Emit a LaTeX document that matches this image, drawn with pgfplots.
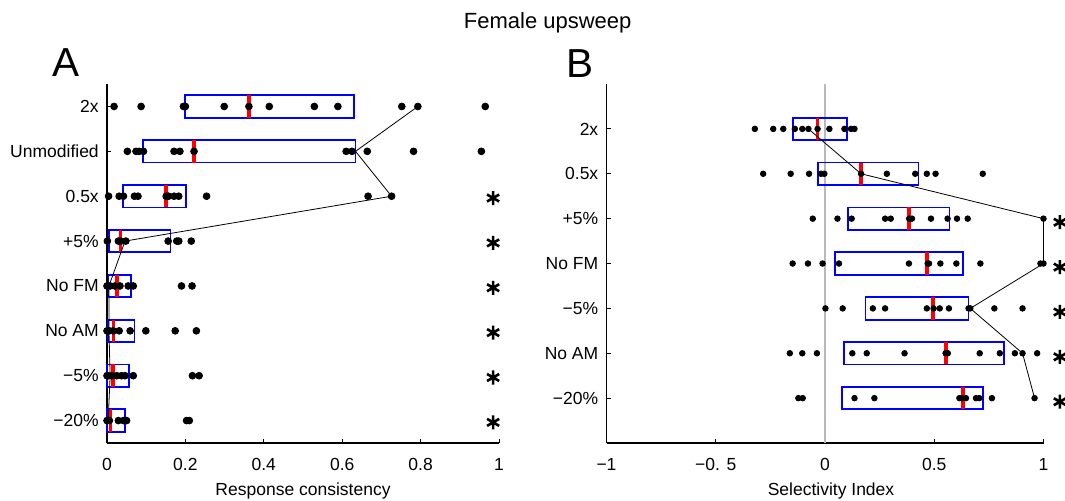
\documentclass[border=0pt]{standalone}
\usepackage{fontspec}
\setmainfont{Liberation Sans}
\usepackage{pgfplots}
\pgfplotsset{compat=1.18}
\usepgfplotslibrary{statistics}

\newcommand{\lblfont}{\fontsize{8.75}{10.5}\selectfont}

\pgfplotsset{
  panel/.style={
    scale only axis, clip=false,
    axis x line*=bottom, axis y line*=left,
    axis line style={line width=0.6pt},
    tick align=inside, major tick length=2pt,
    tick style={black, line width=0.5pt},
    /pgf/number format/assume math mode=true,
    tick label style={font=\lblfont},
    xticklabel style={yshift=-4pt},
    yticklabel style={xshift=-0.6pt},
    label style={font=\lblfont},
    xlabel style={at={(axis description cs:0.5,0)}, anchor=base, yshift=-26.35pt},
    boxplot/draw direction=x,
  },
  % box from quartiles: position, q1, median, q3
  bx/.style n args={4}{blue, line width=0.9pt, solid,
    boxplot prepared={draw position=#1, lower whisker=#2, lower quartile=#2,
      median=#3, upper quartile=#4, upper whisker=#4,
      box extend=0.5, whisker extend=0,
      every median/.style={red, line width=1.7pt}}},
  dots/.style={only marks, mark=*, mark size=#1, black},
  stars/.style={only marks, mark=asterisk, mark size=3.5pt, line width=1.3pt, black},
}

\begin{document}
\begin{tikzpicture}
\path[use as bounding box] (0,0) rectangle (532.5pt,-250pt);

\node[anchor=base, inner sep=0, font=\fontsize{11}{13}\selectfont] at (273.85pt,-14.35pt) {Female upsweep};
\node[anchor=base west, inner sep=0, font=\fontsize{20.25}{24}\selectfont] at (26pt,-38pt) {A};
\node[anchor=base west, inner sep=0, font=\fontsize{20.25}{24}\selectfont] at (283pt,-38.5pt) {B};

% ---- A: response consistency
\begin{axis}[panel,
    at={(53.5pt,-221.5pt)}, anchor=south west,
    width=196pt, height=179.5pt,
    xmin=0, xmax=1, ymin=0.5, ymax=8.5,
    xtick={0,0.2,0.4,0.6,0.8,1},
    ytick={1,2,3,4,5,6,7,8},
    yticklabels={−20\%, −5\%, No AM, No FM, +5\%, 0.5x, Unmodified, 2x},
    xlabel={Response consistency},
]
\addplot[bx={8}{0.199}{0.362}{0.631}] coordinates {};
\addplot[bx={7}{0.091}{0.222}{0.634}] coordinates {};
\addplot[bx={6}{0.040}{0.151}{0.202}] coordinates {};
\addplot[bx={5}{0.006}{0.035}{0.162}] coordinates {};
\addplot[bx={4}{0.004}{0.026}{0.061}] coordinates {};
\addplot[bx={3}{0.003}{0.016}{0.070}] coordinates {};
\addplot[bx={2}{0.001}{0.015}{0.057}] coordinates {};
\addplot[bx={1}{0.001}{0.009}{0.046}] coordinates {};

\addplot[dots=1.7pt] table {
x y
0.018 8
0.087 8
0.195 8
0.200 8
0.299 8
0.362 8
0.414 8
0.529 8
0.589 8
0.752 8
0.793 8
0.965 8
0.052 7
0.074 7
0.082 7
0.093 7
0.171 7
0.186 7
0.222 7
0.610 7
0.625 7
0.664 7
0.782 7
0.955 7
0.004 6
0.031 6
0.042 6
0.070 6
0.079 6
0.151 6
0.157 6
0.171 6
0.183 6
0.254 6
0.666 6
0.726 6
0.001 5
0.029 5
0.035 5
0.048 5
0.156 5
0.178 5
0.183 5
0.215 5
0.000 4
0.008 4
0.020 4
0.033 4
0.054 4
0.067 4
0.190 4
0.217 4
0.000 3
0.006 3
0.016 3
0.031 3
0.059 3
0.099 3
0.174 3
0.228 3
0.000 2
0.003 2
0.012 2
0.025 2
0.037 2
0.046 2
0.067 2
0.218 2
0.235 2
0.000 1
0.006 1
0.029 1
0.042 1
0.050 1
0.203 1
0.210 1
};

\addplot[black, line width=0.4pt] coordinates {
(0.793,8) (0.634,7) (0.726,6) (0.046,5) (0.005,4) (0.005,3) (0.008,2) (0.003,1)};

\addplot[stars] coordinates {
(0.985,5.96) (0.985,4.96) (0.985,3.96) (0.985,2.96) (0.985,1.96) (0.985,0.96)};
\end{axis}

% ---- B: selectivity index
\begin{axis}[panel,
    at={(303.25pt,-221.5pt)}, anchor=south west,
    width=218.5pt, height=179.5pt,
    xmin=-1, xmax=1, ymin=0, ymax=8,
    xtick={-1,-0.5,0,0.5,1},
    xticklabels={−1, −0. 5, 0, 0.5, 1},
    ytick={1,2,3,4,5,6,7},
    yticklabels={−20\%, No AM, −5\%, No FM, +5\%, 0.5x, 2x},
    xlabel={Selectivity Index},
    xlabel style={xshift=3pt},
]
\addplot[gray!55, line width=0.8pt] coordinates {(0,0) (0,8)};

\addplot[bx={7}{-0.148}{-0.034}{0.099}] coordinates {};
\addplot[bx={6}{-0.031}{0.165}{0.428}] coordinates {};
\addplot[bx={5}{0.104}{0.385}{0.570}] coordinates {};
\addplot[bx={4}{0.047}{0.466}{0.630}] coordinates {};
\addplot[bx={3}{0.185}{0.494}{0.657}] coordinates {};
\addplot[bx={2}{0.087}{0.553}{0.818}] coordinates {};
\addplot[bx={1}{0.078}{0.632}{0.722}] coordinates {};

\addplot[dots=1.4pt] table {
x y
-0.321 7
-0.237 7
-0.191 7
-0.138 7
-0.104 7
-0.076 7
-0.034 7
0.020 7
0.089 7
0.119 7
0.135 7
-0.283 6
-0.157 6
-0.073 6
-0.018 6
-0.003 6
0.165 6
0.283 6
0.413 6
0.466 6
0.506 6
0.722 6
-0.056 5
0.057 5
0.122 5
0.275 5
0.301 5
0.385 5
0.398 5
0.485 5
0.561 5
0.604 5
0.653 5
1.000 5
-0.148 4
-0.078 4
-0.011 4
0.064 4
0.384 4
0.470 4
0.476 4
0.528 4
0.601 4
0.711 4
0.986 4
1.000 4
0.002 3
0.081 3
0.219 3
0.275 3
0.466 3
0.497 3
0.525 3
0.567 3
0.657 3
0.665 3
0.775 3
0.904 3
-0.161 2
-0.104 2
-0.037 2
0.125 2
0.191 2
0.364 2
0.552 2
0.562 2
0.708 2
0.800 2
0.869 2
0.904 2
0.971 2
-0.122 1
-0.102 1
0.135 1
0.226 1
0.615 1
0.627 1
0.645 1
0.691 1
0.706 1
0.764 1
0.959 1
};

\addplot[black, line width=0.4pt] coordinates {
(-0.076,7) (0.165,6) (1.0,5) (1.0,4) (0.665,3) (0.904,2) (0.959,1)};

\addplot[stars] coordinates {
(1.075,4.92) (1.075,3.92) (1.075,2.92) (1.075,1.92) (1.075,0.92)};
\end{axis}
\end{tikzpicture}
\end{document}
